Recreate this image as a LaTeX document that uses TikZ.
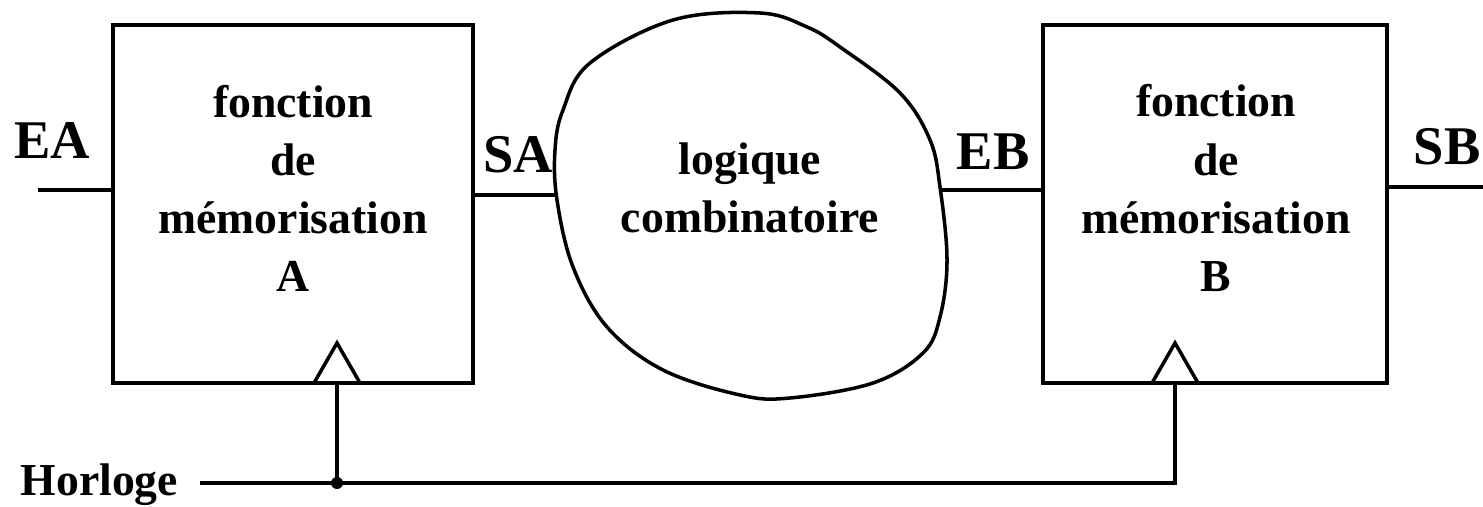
\documentclass[tikz,border=0pt]{standalone}
\usepackage{fontspec}
\setmainfont{Liberation Serif}
\begin{document}
\begin{tikzpicture}[x=0.01cm,y=-0.01cm,
  wire/.style={line width=1pt},
  membox/.style={draw,line width=1pt,minimum width=#1*0.01cm,minimum height=3.58cm,inner sep=0pt},
  lbl/.style={font=\fontsize{13}{16.5}\selectfont\bfseries,inner sep=0pt,align=center},
  sig/.style={font=\fontsize{15.5}{18}\selectfont\bfseries,inner sep=0pt}]
\useasboundingbox (0,0) rectangle (1483,507);

% storage blocks
\node[membox=360] (boxA) at (293,204) {};
\node[membox=344] (boxB) at (1215,204) {};
\node[lbl] (txtA) at (293,188) {fonction\\de\\mémorisation\\A};
\node[lbl] (txtB) at (1216,188) {fonction\\de\\mémorisation\\B};

% clock inputs
\foreach \cx in {337,1175}{
  \draw[wire,line join=miter] (\cx-23,383) -- (\cx,343) -- (\cx+23,383);
}

% combinational logic cloud
\draw[line width=1pt] plot[smooth cycle,tension=0.6] coordinates {
  (760,13) (673,20) (590,63) (563,110) (555,150) (557,200) (573,267)
  (607,327) (663,370) (740,395) (790,398) (873,383) (923,353) (940,317)
  (947,260) (940,187) (930,140) (900,93) (840,47) (807,27)};
\coordinate (logL) at (556,195);
\coordinate (logR) at (941,190);
\node[lbl] (logic) at (750,188) {logique\\combinatoire};

% signal labels
\node[sig] (EA) at (52,141) {EA};
\node[sig] (SA) at (518,155) {SA};
\node[sig] (EB) at (993,152) {EB};
\node[sig] (SB) at (1447,147) {SB};
\node[lbl,anchor=base west] (clk) at (20,495) {Horloge};

% wires
\coordinate (eaEnd) at (38,190);
\coordinate (sbEnd) at (1483,187);
\draw[wire] (eaEnd) -- (boxA.west |- eaEnd);
\draw[wire] (boxA.east |- logL) -- (logL);
\draw[wire] (logR) -- (boxB.west |- logR);
\draw[wire] (boxB.east |- sbEnd) -- (sbEnd);

\coordinate (tapA) at (337,483);
\coordinate (tapB) at (1175,483);
\coordinate (clkStart) at (200,483);
\draw[wire,line join=miter] (clkStart) -- (tapB) -- (tapB |- boxB.south);
\draw[wire] (tapA) -- (tapA |- boxA.south);
\fill (tapA) circle (0.06cm);
\end{tikzpicture}
\end{document}
